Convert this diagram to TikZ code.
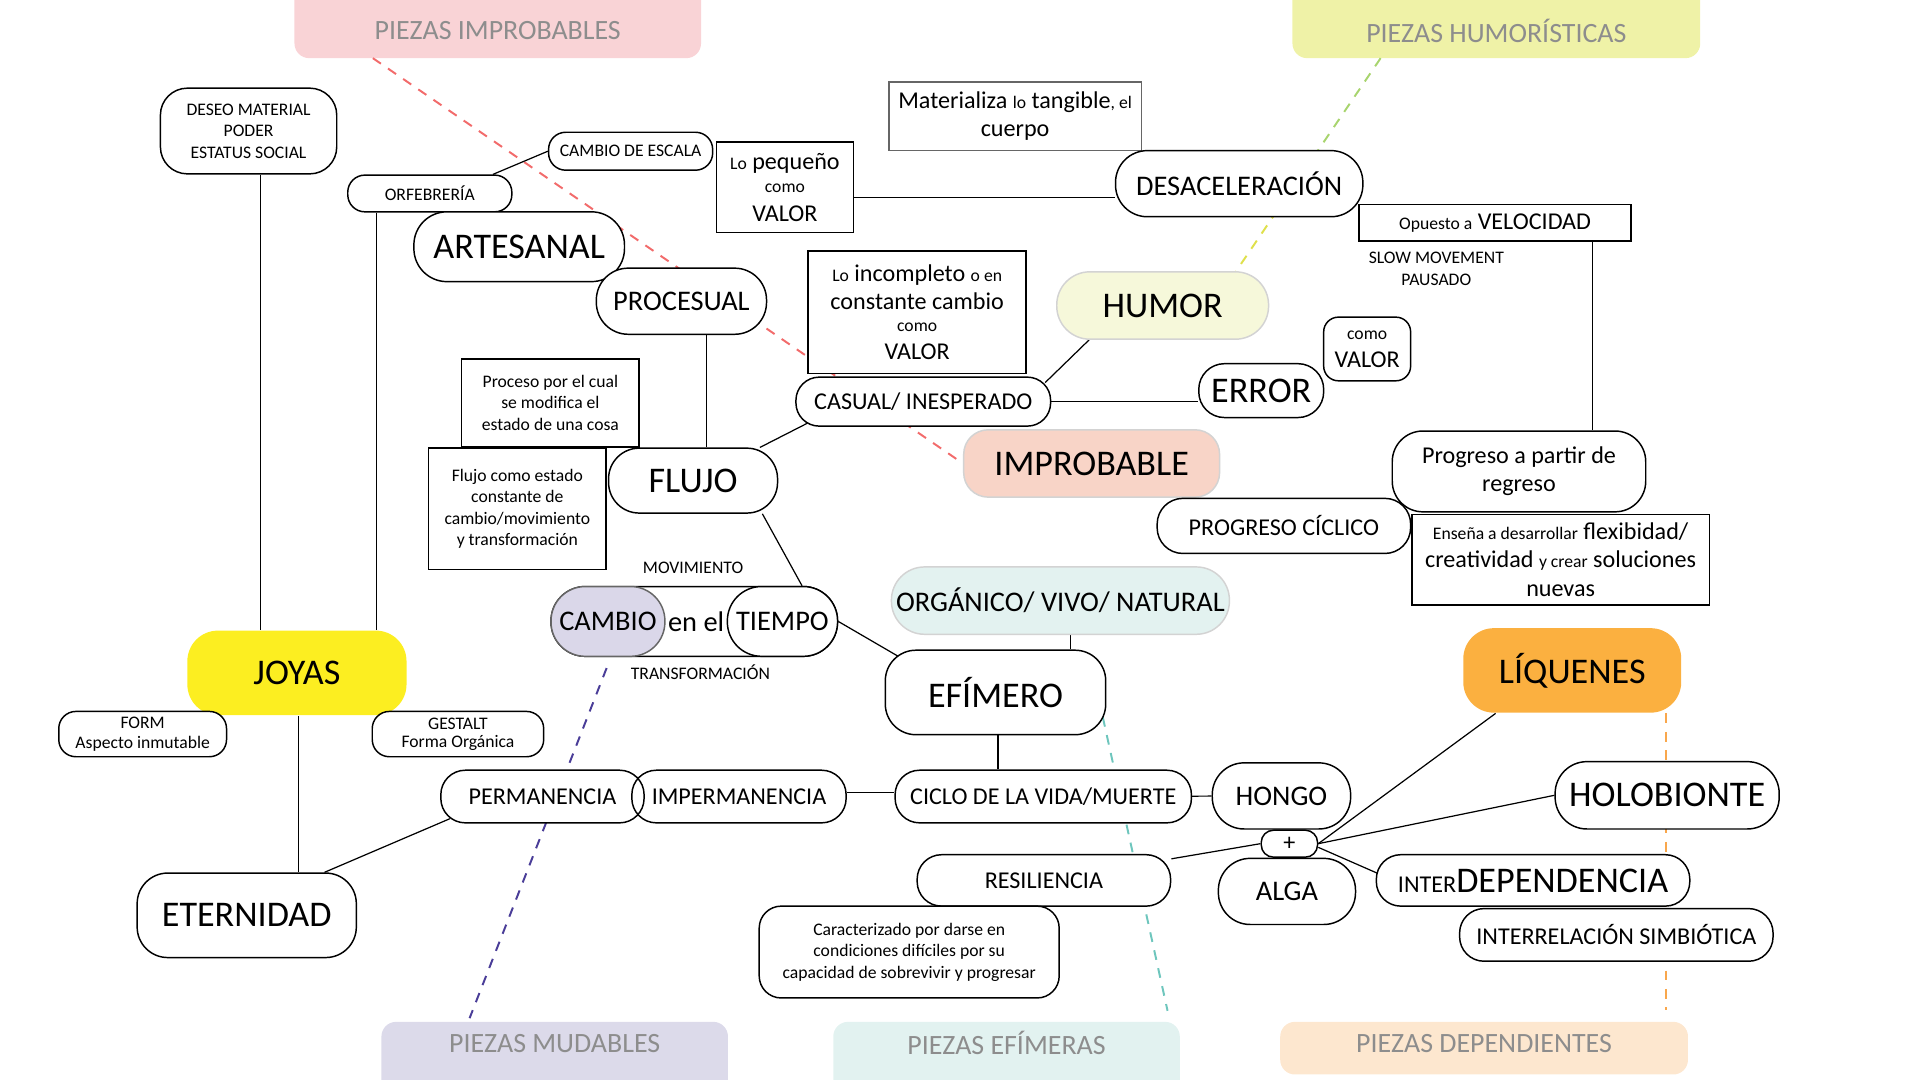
\documentclass[tikz,border=0pt]{standalone}
\usepackage{fontspec}
\setmainfont{Carlito}
\usetikzlibrary{backgrounds,calc}

\definecolor{hpink}{HTML}{F9D3D6}
\definecolor{hyell}{HTML}{EFF2A7}
\definecolor{hlav}{HTML}{DCDAEA}
\definecolor{hteal}{HTML}{E2F2F0}
\definecolor{hpeach}{HTML}{FDE7CF}
\definecolor{hgray}{HTML}{8D8D8D}
\definecolor{joyyel}{HTML}{FCEE21}
\definecolor{liqor}{HTML}{FBB040}
\definecolor{humfill}{HTML}{F6F8DA}
\definecolor{impfill}{HTML}{F8D4C7}
\definecolor{orgfill}{HTML}{E3F2F0}
\definecolor{lavfill}{HTML}{DAD7E9}
\definecolor{lgray}{HTML}{D3D3D3}
\definecolor{dred}{HTML}{F26B6B}
\definecolor{dgreen}{HTML}{A8D46E}
\definecolor{dyellow}{HTML}{DFE04C}
\definecolor{dpurple}{HTML}{4A3D98}
\definecolor{dteal}{HTML}{6EC6BD}
\definecolor{dorange}{HTML}{F9A74C}

\newcommand{\szS}{\fontsize{14.4}{17.5}\selectfont}
\newcommand{\szM}{\fontsize{19.7}{23}\selectfont}
\newcommand{\szL}{\fontsize{23.2}{27}\selectfont}
\newcommand{\szH}{\fontsize{29.5}{34}\selectfont}
\newcommand{\szT}{\fontsize{22.8}{26}\selectfont}

\begin{document}
\begin{tikzpicture}[x=1pt,y=-1pt,line width=1pt,
  bx/.style n args={3}{draw,fill=white,align=center,inner sep=0pt,line width=1.2pt,
    minimum width=#1pt,minimum height=#2pt,rounded corners=#3pt},
  tS/.style={font=\szS},
  tM/.style={font=\szM},
  tL/.style={font=\szL},
  tH/.style={font=\szH},
  hd/.style={font=\szT,text=hgray,minimum width=#1pt,inner sep=0pt},
  lnk/.style={line width=1pt},
  dsh/.style={line width=1.6pt,dash pattern=on 8pt off 7pt}]

	\useasboundingbox (0,0) rectangle (1568,882);

	\node[hd=331,minimum height=44pt] (hImp) at (406.5,25) {PIEZAS IMPROBABLES};
	\node[hd=332,minimum height=44pt] (hHum) at (1222,25) {PIEZAS HUMORÍSTICAS};
	\node[hd=282,minimum height=34pt] (hMud) at (453,852) {PIEZAS MUDABLES};
	\node[hd=282,minimum height=34pt] (hEfi) at (822,852) {PIEZAS EFÍMERAS};
	\node[hd=332,minimum height=34pt] (hDep) at (1212,852) {PIEZAS DEPENDIENTES};

	\node[bx={144}{70}{22},tS] (deseo) at (203,107) {DESEO MATERIAL\\PODER\\ESTATUS SOCIAL};
	\node[bx={134}{31}{14},tS] (cesc) at (515,123.5) {CAMBIO DE ESCALA};
	\node[bx={134}{30}{14},tS] (orfe) at (351,158) {ORFEBRERÍA};
	\node[bx={172}{57}{27},tH] (arte) at (424,201.5) {ARTESANAL};
	\node[bx={139}{54}{26},tL] (proc) at (556.5,246) {PROCESUAL};
	\node[bx={112}{74}{0},tM] (peq) at (641,153) {{\szS Lo} pequeño\\[-4pt]{\szS como}\\VALOR};
	\node[bx={206}{56}{0},tM,draw=black!60] (mat) at (829,95) {Materializa {\szS lo} tangible{\szS, el}\\cuerpo};
	\node[bx={202}{54}{26},tL] (desac) at (1012,150) {DESACELERACIÓN};
	\node[bx={222}{30}{0},tM] (veloc) at (1221,182) {{\szS Opuesto a} VELOCIDAD};
	\node[tS,align=center] (slow) at (1173,219.5) {SLOW MOVEMENT\\PAUSADO};
	\node[bx={173}{55}{27},tH,fill=humfill,draw=lgray] (humor) at (949.5,249.5) {HUMOR};
	\node[bx={178}{100}{0},tM] (incomp) at (749,255) {{\szS Lo} incompleto {\szS o en}\\constante cambio\\[-5pt]{\szS como}\\VALOR};
	\node[bx={71}{52}{12},tM] (comoval) at (1116.5,285) {{\szS como}\\VALOR};
	\node[bx={102}{44}{21},tH] (error) at (1030,319) {ERROR};
	\node[bx={208}{40}{19},tM] (casual) at (754,328) {CASUAL/ INESPERADO};
	\node[bx={209}{55}{20},tH,fill=impfill,draw=lgray] (improb) at (891.5,378.5) {IMPROBABLE};
	\node[bx={145}{72}{0},tS] (proceso) at (449.5,329) {Proceso por el cual\\se modifica el\\estado de una cosa};
	\node[bx={145}{99}{0},tS] (flujotxt) at (422.5,415.5) {Flujo como estado\\constante de\\cambio/movimiento\\y transformación};
	\node[bx={138}{53}{25},tH] (flujo) at (566,392.5) {FLUJO};
	\node[bx={207}{66}{25},tM] (progreso) at (1240.5,385) {Progreso a partir de\\regreso};
	\node[bx={207}{45}{21},tM] (ciclico) at (1048.5,429.5) {PROGRESO CÍCLICO};
	\node[bx={243}{74}{0},tM] (ensena) at (1274.5,457) {{\szS Enseña a desarrollar} flexibidad/\\creatividad {\szS y crear} soluciones\\nuevas};

	\node[tS] (movim) at (566,464) {MOVIMIENTO};
	\node[bx={234}{57}{28}] (cambio) at (567,507.5) {};
	\node[bx={93}{57}{28},tL,fill=lavfill,draw=black!60] (cambioL) at (496.5,507.5) {CAMBIO};
	\node[bx={90}{57}{28},tL] (tiempo) at (639,507.5) {TIEMPO};
	\node[tL] (enel) at (568.5,507.5) {en el};
	\node[tS] (transf) at (572,549) {TRANSFORMACIÓN};

	\node[bx={276}{55}{27},tL,fill=orgfill,draw=lgray] (organico) at (866,490.5) {ORGÁNICO/ VIVO/ NATURAL};
	\node[bx={180}{69}{25},tH] (efi) at (813,565.5) {EFÍMERO};
	\node[bx={179}{69}{25},tH,fill=joyyel,draw=none] (joyas) at (242.5,549.5) {JOYAS};
	\node[bx={137}{37}{14},tS] (form) at (116.5,599.5) {FORM\\[-1pt]Aspecto inmutable};
	\node[bx={140}{37}{14},tS] (gestalt) at (374,599.5) {GESTALT\\[-2.5pt]Forma Orgánica};
	\node[bx={178}{69}{25},tH,fill=liqor,draw=none] (liq) at (1284,547.5) {LÍQUENES};

	\node[bx={166}{43}{20},tM] (perm) at (443,650.5) {PERMANENCIA};
	\node[bx={175}{43}{20},tM,fill=none] (imperm) at (603.5,650.5) {IMPERMANENCIA};
	\node[bx={242}{43}{20},tM] (ciclo) at (852,650.5) {CICLO DE LA VIDA/MUERTE};
	\node[bx={113}{54}{26},tL] (hongo) at (1046.5,650) {HONGO};
	\node[bx={183}{55}{26},tH] (holo) at (1361.5,649.5) {HOLOBIONTE};
	\node[bx={46}{22}{10},tM] (plus) at (1053,689) {+};
	\node[bx={112}{54}{26},tL] (alga) at (1051,728) {ALGA};
	\node[bx={207}{42}{20},tM] (resil) at (852.5,719) {RESILIENCIA};
	\node[bx={256}{42}{20}] (interdep) at (1252,719) {{\szM INTER}{\szH DEPENDENCIA}};
	\node[bx={256}{43}{20},tM] (simb) at (1320,763.5) {INTERRELACIÓN SIMBIÓTICA};
	\node[bx={245}{75}{18},tS] (caract) at (742.5,777.5) {Caracterizado por darse en\\condiciones difíciles por su\\capacidad de sobrevivir y progresar};
	\node[bx={179}{69}{25},tH] (etern) at (201.5,747.5) {ETERNIDAD};

	\begin{pgfonlayer}{background}
	\fill[hpink,rounded corners=12pt] ([yshift=30pt]hImp.north west) rectangle (hImp.south east);
	\fill[hyell,rounded corners=12pt] ([yshift=30pt]hHum.north west) rectangle (hHum.south east);
	\fill[hlav,rounded corners=12pt] (hMud.north west) rectangle ([yshift=-40pt]hMud.south east);
	\fill[hteal,rounded corners=12pt] (hEfi.north west) rectangle ([yshift=-40pt]hEfi.south east);
	\fill[hpeach,rounded corners=12pt] (hDep.north west) rectangle ([yshift=-8pt]hDep.south east);

	\draw[dsh,dred] ([xshift=64pt]hImp.south west) -- (improb.west);
	\coordinate (gs) at ([xshift=72pt]hHum.south west);
	\coordinate (ge) at ([xshift=60pt]humor.north);
	\draw[dsh,dgreen] (gs) -- ($(gs)!.5!(ge)$);
	\draw[dsh,dyellow] ($(gs)!.5!(ge)$) -- (ge);
	\draw[dsh,dpurple] ([xshift=46pt,yshift=-9pt]cambio.south west) -- ([xshift=72pt,yshift=3pt]hMud.north west);
	\draw[dsh,dteal] ([xshift=-3pt,yshift=15pt]efi.south east) -- ([xshift=-10pt,yshift=9pt]hEfi.north east);
	\draw[dsh,dorange] ([xshift=-13pt]liq.south east) -- ([xshift=-13pt,yshift=10pt]liq.south east |- hDep.north);

	\draw[lnk] ([xshift=10pt]deseo.south) -- ([xshift=10pt]deseo.south |- joyas.north);
	\draw[lnk] ([xshift=24pt]orfe.south west) -- ([xshift=24pt]orfe.south west |- joyas.north);
	\draw[lnk] ([xshift=-16pt]orfe.north east) -- (cesc.west);
	\draw[lnk] ([xshift=20.5pt]proc.south) -- ([xshift=20.5pt]proc.south |- flujo.north);
	\draw[lnk] ([xshift=-15pt]flujo.north east) -- ([xshift=10pt,yshift=3pt]casual.south west);
	\draw[lnk] ([xshift=-13pt]flujo.south east) -- ([xshift=16pt]tiempo.north);
	\draw[lnk] ([yshift=-8pt]peq.east) -- ([yshift=-8pt]peq.east -| desac.west);
	\draw[lnk] ([xshift=27pt]humor.south west) -- ([xshift=-5pt,yshift=-5pt]casual.north east);
	\draw[lnk] (casual.east) -- (casual.east -| error.west);
	\draw[lnk] ([xshift=-32pt]veloc.south east) -- ([xshift=-32pt]veloc.south east |- progreso.north);
	\draw[lnk] (tiempo.east) -- ([xshift=17pt,yshift=-9pt]efi.north west);
	\draw[lnk] ([xshift=8pt]organico.south) -- ([xshift=8pt]organico.south |- efi.north);
	\draw[lnk] ([xshift=2pt]efi.south) -- ([xshift=2pt]efi.south |- ciclo.north);
	\draw[lnk] ([yshift=3pt]imperm.east) -- ([yshift=3pt]imperm.east -| ciclo.west);
	\draw[lnk] (ciclo) -- (hongo);
	\draw[lnk] ([xshift=1.5pt]joyas.south) -- ([xshift=1.5pt]joyas.south |- etern.north);
	\draw[lnk] ([xshift=63.5pt]etern.north) -- ([xshift=8pt,yshift=4pt]perm.south west);
	\draw[lnk] (plus.east) -- ([xshift=27pt]liq.south west);
	\draw[lnk] (plus.east) -- (holo.west);
	\draw[lnk] ([yshift=-3pt]plus.east) -- ([xshift=8pt,yshift=3pt]interdep.west);
	\draw[lnk] (plus.west) -- (resil);
	\end{pgfonlayer}

\end{tikzpicture}
\end{document}
